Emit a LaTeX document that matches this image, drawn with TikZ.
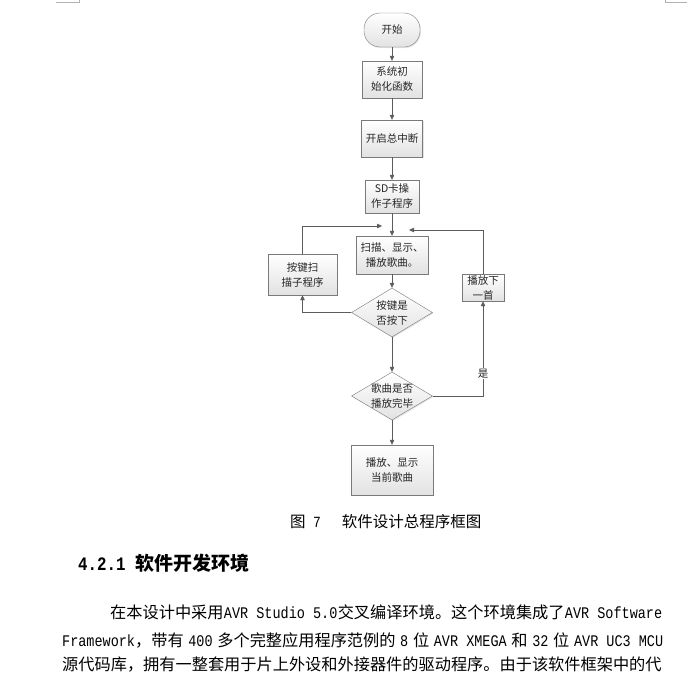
\documentclass[tikz,border=0pt]{standalone}
\usepackage{fontspec}
\setmainfont{Noto Sans CJK SC}
\newfontfamily\latin[FakeStretch=0.8333]{Liberation Mono}
\usetikzlibrary{shapes.geometric,arrows.meta,shadows}

\definecolor{boxedge}{HTML}{7A7A7A}
\definecolor{flowline}{HTML}{5C5C5C}
\definecolor{boxlow}{HTML}{E2E2E2}

\tikzset{
  box/.style={draw=boxedge, top color=white, bottom color=boxlow, align=center,
    inner sep=0.5pt, text=black!85,
    drop shadow={opacity=0.2, shadow xshift=1pt, shadow yshift=-1pt}},
  term/.style={box, rounded corners=16pt},
  decision/.style={box, diamond, aspect=1.65, inner sep=-4pt},
  flow/.style={draw=flowline, -{Triangle[length=5pt,width=4.5pt]}},
  para/.style={anchor=west, inner sep=0pt, font=\fontsize{16.2}{20}\selectfont}
}

\begin{document}
\begin{tikzpicture}[x=1pt, y=-1pt, font=\fontsize{10.5}{15}\selectfont]
\useasboundingbox[fill=white] (0,0) rectangle (687,675);

% page corner marks
\draw[gray!60] (56,2) -- (79,2) -- (79,0);
\draw[gray!60] (665,0) -- (665,2) -- (687,2);

% main column
\node[term, minimum width=56pt, minimum height=34pt] (start) at (392,30) {开始};
\node[box, minimum width=60pt, minimum height=37pt] (init) at (392,79.5) {系统初\\始化函数};
\node[box, minimum width=61pt, minimum height=37pt] (intr) at (392,138.5) {开启总中断};
\node[box, minimum width=54pt, minimum height=33pt] (sdcard) at (392,196.5) {SD卡操\\作子程序};
\node[box, minimum width=72pt, minimum height=38pt] (scan) at (392,255) {扫描、显示、\\播放歌曲。};
\node[decision, minimum width=81pt, minimum height=49pt] (keydown) at (392,312.5) {按键是\\否按下};
\node[decision, minimum width=81pt, minimum height=48pt] (songend) at (392,396) {歌曲是否\\播放完毕};
\node[box, minimum width=82pt, minimum height=50pt] (show) at (392,470) {播放、显示\\当前歌曲};

% side boxes
\node[box, minimum width=69pt, minimum height=41pt] (keyscan) at (302.5,274.5) {按键扫\\描子程序};
\node[box, minimum width=42pt, minimum height=27pt] (nextsong) at (483,287.5) {播放下\\一首};

\coordinate (backL) at (382,226);
\coordinate (backR) at (409,230);

\draw[flow] (start) -- (init);
\draw[flow] (init) -- (intr);
\draw[flow] (intr) -- (sdcard);
\draw[flow] (sdcard) -- (scan);
\draw[flow] (scan) -- (keydown);
\draw[flow] (keydown) -- (songend);
\draw[flow] (songend) -- (show);

\draw[flow] (keydown.west) -| (keyscan.south);
\draw[flow] (keyscan.north) |- (backL);
\draw[flow] (songend.east) -| node[pos=0.62, fill=white, inner sep=1pt, text=black!85] {是} (nextsong.south);
\draw[flow] (nextsong.north) |- (backR);

% caption and text
\node[anchor=west, inner sep=0pt, font=\fontsize{15.5}{18}\selectfont] (caption) at (290,522)
  {图\hspace{7.5pt}{\latin 7}\hspace{21pt}软件设计总程序框图};
\node[anchor=west, inner sep=0pt, font=\fontsize{19}{22}\selectfont\bfseries] (heading) at (78,563)
  {{\latin 4.2.1 }软件开发环境};

\node[para] (line1) at (110,612) {\hbox to 552pt{在本设计中采用\hfil{\latin AVR Studio 5.0}\hfil 交叉编译环境。这个环境集成了\hfil{\latin AVR Software}}};
\node[para] (line2) at (62,640) {\hbox to 601pt{{\latin Framework}，带有\hfil{\latin 400}\hfil 多个完整应用程序范例的\hfil{\latin 8}\hfil 位\hfil{\latin AVR XMEGA}\hfil 和\hfil{\latin 32}\hfil 位\hfil{\latin AVR UC3 MCU}}};
\node[para] (line3) at (62,665) {源代码库，拥有一整套用于片上外设和外接器件的驱动程序。由于该软件框架中的代};

\end{tikzpicture}
\end{document}
